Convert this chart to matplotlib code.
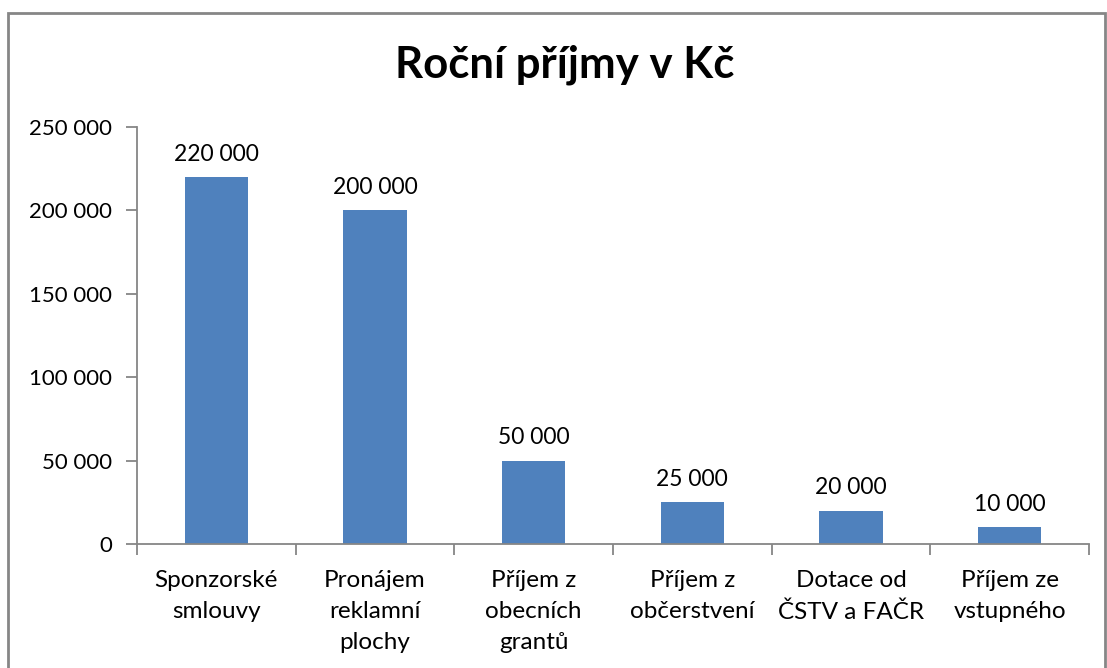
import matplotlib.pyplot as plt
from matplotlib.patches import Rectangle
from matplotlib.ticker import FuncFormatter, MultipleLocator

# data
kategorie = ["Sponzorské\nsmlouvy", "Pronájem\nreklamní\nplochy", "Příjem z\nobecních\ngrantů",
             "Příjem z\nobčerstvení", "Dotace od\nČSTV a FAČR", "Příjem ze\nvstupného"]
prijmy = [220000, 200000, 50000, 25000, 20000, 10000]

plt.rcParams['font.family'] = ['Lato', 'DejaVu Sans']

fig = plt.figure(figsize=(11.07, 6.68), dpi=100)
ax = fig.add_axes([137 / 1107, 1 - 544 / 668, (1089 - 137) / 1107, (544 - 127) / 668])

# ramecek grafu
fig.patches.append(Rectangle((8 / 1107, -0.01), (1105 - 8) / 1107, 1 - 13 / 668 + 0.01,
                             transform=fig.transFigure, fill=False, edgecolor='#868686', lw=2))

x = range(len(prijmy))
ax.bar(x, prijmy, width=0.4, color='#4F81BD')
for xi, v in zip(x, prijmy):
    ax.annotate(f"{v:,}".replace(",", " "), (xi, v), xytext=(0, 9), textcoords='offset points',
                ha='center', va='bottom', fontsize=16.5)

ax.set_xlim(-0.5, len(prijmy) - 0.5)
ax.set_ylim(0, 250000)
ax.yaxis.set_major_locator(MultipleLocator(50000))
ax.yaxis.set_major_formatter(FuncFormatter(lambda v, p: f"{int(v):,}".replace(",", " ")))
ax.set_xticks(list(x))
ax.set_xticklabels(kategorie, fontsize=17.5, linespacing=1.58)
ax.set_xticks([i - 0.5 for i in range(len(prijmy) + 1)], minor=True)
ax.tick_params(axis='x', which='major', length=0, pad=19)
ax.tick_params(axis='x', which='minor', length=8, color='#868686', width=1.3)
ax.tick_params(axis='y', length=8, color='#868686', width=1.3, labelsize=16, pad=10)

for s in ['top', 'right']:
    ax.spines[s].set_visible(False)
for s in ['left', 'bottom']:
    ax.spines[s].set_color('#868686')
    ax.spines[s].set_linewidth(1.3)

fig.text(565 / 1107, 1 - 65 / 668, "Roční příjmy v Kč", ha='center', va='center', fontsize=31.5, fontweight='bold')

fig.savefig("out.png", dpi=100)
